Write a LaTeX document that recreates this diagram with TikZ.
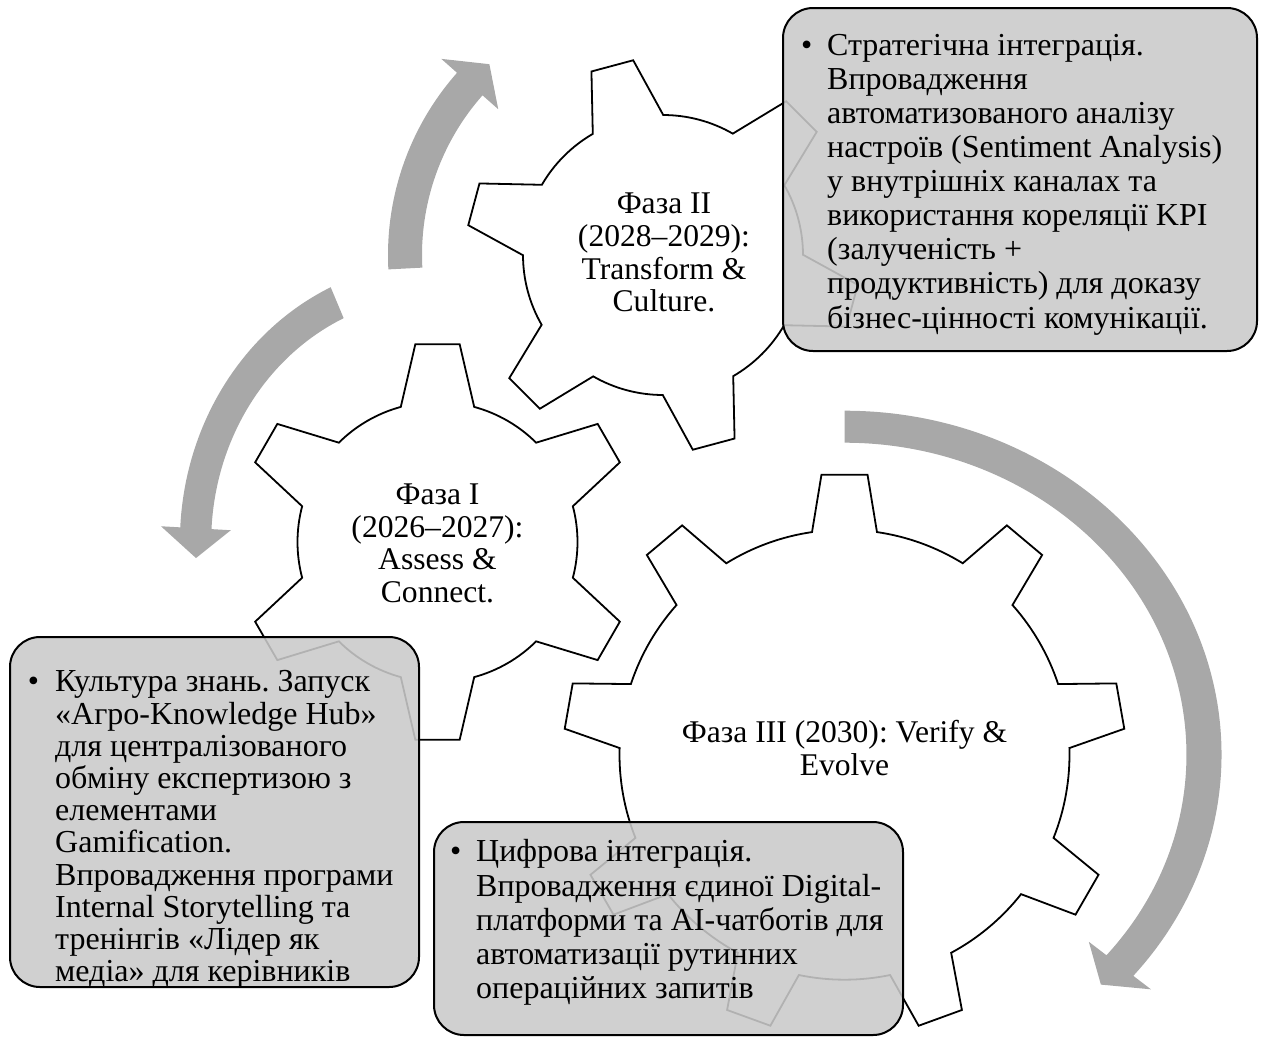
\documentclass[tikz,border=0pt]{standalone}
\usepackage{fontspec}
\setmainfont{Liberation Serif}
\frenchspacing
\definecolor{arrowgray}{RGB}{168,168,168}
\definecolor{boxgray}{RGB}{202,202,202}

% gear: centre x, centre y, teeth, phase, outer r, inner r, tip half angle, root half angle
\newcommand{\gear}[8]{%
  \draw[gearline, shift={(#1,#2)}] ({#4-#8}:#6)
    \foreach \k in {1,...,#3} {
      -- ({#4+(\k-1)*360/#3-#7}:#5) -- ({#4+(\k-1)*360/#3+#7}:#5)
      -- ({#4+(\k-1)*360/#3+#8}:#6)
      arc[start angle={#4+(\k-1)*360/#3+#8}, end angle={#4+\k*360/#3-#8}, radius=#6]
    } -- cycle;}

% arrow: centre x, centre y, x scale, outer r, inner r, start angle, head angle, tip angle
\newcommand{\ringarrow}[8]{%
  \fill[arrowgray, shift={(#1,#2)}, xscale=#3] (#6:#4)
    arc[start angle=#6, end angle=#7, radius=#4]
    -- (#7:{#4+21}) -- (#8:{(#4+#5)/2}) -- (#7:{#5-21}) -- (#7:#5)
    arc[start angle=#7, end angle=#6, radius=#5] -- cycle;}

\begin{document}
\begin{tikzpicture}[x=1pt, y=1pt,
    gearline/.style={draw=black, line width=1.8pt, fill=white, line join=miter},
    infobox/.style={draw=black, line width=2pt, rounded corners=30pt, fill=boxgray, fill opacity=0.88, draw opacity=1, inner sep=0pt},
    geartext/.style={align=center, inner sep=0pt, font=\fontsize{31.6}{32.7}\selectfont},
    boxtext/.style={align=left, inner sep=0pt, anchor=north west}]

    \useasboundingbox (0,0) rectangle (1264,-1037);

    % gears
    \gear{437.5}{-542}{6}{90}{199}{140}{6.4}{15.2}
    \gear{663}{-255}{6}{105}{197}{140}{6.3}{15.1}
    \gear{844.5}{-754.7}{9}{90}{281}{225}{4.7}{8.3}

    % arrows
    \ringarrow{437.5}{-542}{0.92}{280}{246}{114.5}{177}{183.5}
    \ringarrow{663}{-255}{1}{275}{241}{183}{138.5}{132.3}
    \ringarrow{844.5}{-754.7}{1.096}{344}{312}{90}{-40}{-44.5}

    % text boxes
    \node[infobox, minimum width=474pt, minimum height=343pt] (boxA) at (1020,-179.5) {};
    \node[infobox, minimum width=409pt, minimum height=350pt] (boxB) at (214.5,-812) {};
    \node[infobox, minimum width=469pt, minimum height=213pt] (boxC) at (668.5,-928.5) {};

    % gear labels
    \node[geartext] (phaseI) at (437.5,-543.5) {Фаза I\\(2026–2027):\\Assess \&\\Connect.};
    \node[geartext] (phaseII) at (664,-252.7) {Фаза II\\(2028–2029):\\Transform \&\\Culture.};
    \node[geartext] (phaseIII) at (844.5,-748.3) {Фаза III (2030): Verify \&\\Evolve};

    % bullet texts
    \node[boxtext, font=\fontsize{32}{34.1}\selectfont] (textA) at (827,-29) {\rule{0pt}{26pt}\llap{•\hspace{15pt}}Стратегічна інтеграція.\\
        Впровадження\\
        автоматизованого аналізу\\
        настроїв (Sentiment Analysis)\\
        у внутрішніх каналах та\\
        використання кореляції KPI\\
        (залученість +\\
        продуктивність) для доказу\\
        бізнес-цінності комунікації.};
    \node[boxtext, font=\fontsize{32}{32.2}\selectfont] (textB) at (55,-665.7) {\rule{0pt}{26pt}\llap{•\hspace{16pt}}Культура знань. Запуск\\
        «Агро-Knowledge Hub»\\
        для централізованого\\
        обміну експертизою з\\
        елементами\\
        Gamification.\\
        Впровадження програми\\
        Internal Storytelling та\\
        тренінгів «Лідер як\\
        медіа» для керівників};
    \node[boxtext, font=\fontsize{32}{34.1}\selectfont] (textC) at (476,-835.7) {\rule{0pt}{26pt}\llap{•\hspace{15pt}}Цифрова інтеграція.\\
        Впровадження єдиної Digital-\\
        платформи та AI-чатботів для\\
        автоматизації рутинних\\
        операційних запитів};

\end{tikzpicture}
\end{document}
